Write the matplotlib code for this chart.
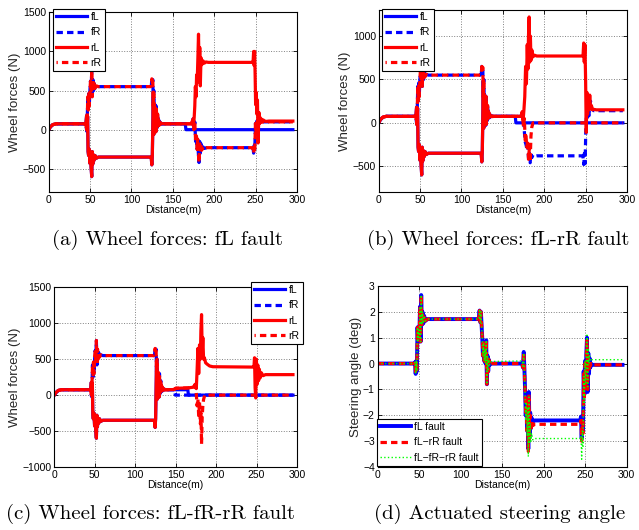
import matplotlib

matplotlib.use("Agg")
import matplotlib.pyplot as plt
import numpy as np

plt.rcParams["font.family"] = ["Liberation Sans", "DejaVu Sans"]

# ---- wheel forces, common part 0-140 m (same in a/b/c) ----
LEFT_X = [0, 2, 5, 9, 44, 45, 45.8, 46.4, 47, 47.6, 48.2, 49, 49.8, 50.5, 51.2, 52, 52.6, 53.3, 54, 55,
          56, 57.5, 60, 123, 124, 124.6, 125.2, 125.8, 126.4, 127, 127.6, 128.3, 129, 129.8, 130.6, 131.4,
          132.2, 133, 134, 135, 137, 140]
LEFT_Y = [0, 35, 65, 75, 75, 90, 180, -10, 170, -280, -330, -250, -430, -300, -480, -600, -280, -440, -320,
          -390, -330, -365, -350, -350, -370, -450, -330, 60, 480, -60, 320, 20, 260, -20, 200, 40, 140, 60,
          100, 70, 78, 75]
RIGHT_X = [0, 2, 5, 9, 44, 45, 46, 46.6, 47.2, 47.8, 48.4, 49, 49.8, 50.5, 51.2, 52, 52.7, 53.4, 54.2, 55,
           56, 57.5, 60, 123, 124, 124.6, 125.2, 125.8, 126.4, 127, 127.7, 128.4, 129.2, 130, 130.8, 131.6,
           132.4, 133.2, 134, 135, 137, 140]
RIGHT_Y = [0, 35, 65, 75, 75, 60, -20, 150, 420, 250, 460, 300, 500, 620, 480, 760, 420, 640, 500, 590,
           530, 560, 550, 550, 560, 650, 600, 640, 300, 500, 150, 320, -30, 300, 20, 200, 50, 120, 60, 90,
           72, 75]

# ---- (a) fL fault, tails after 140 m ----
fL_a_x = [140, 165, 165.8, 295]
fL_a_y = [75, 75, 0, 0]
rL_a_x = [140, 172, 174, 175, 175.8, 176.5, 177.2, 178, 178.7, 179.4, 180.2, 181, 181.8, 182.5, 183.2, 184,
          185, 186.5, 188, 190, 193, 246, 247, 247.6, 248.2, 248.8, 249.4, 250, 250.7, 251.4, 252.2, 253,
          254, 255, 256, 257.5, 259, 262, 266, 295]
rL_a_y = [75, 75, 120, 40, 160, 300, 550, 420, 700, 600, 900, 1220, 700, 1050, 560, 920, 830, 880, 850,
          865, 860, 860, 880, 1000, 820, 1000, 700, 320, 480, 200, 380, -170, 220, 80, 150, 100, 125, 105,
          110, 110]
rR_a_x = [140, 173, 174.5, 175.5, 176.5, 177.5, 178.5, 179.3, 180, 180.8, 181.6, 182.4, 183.2, 184, 185,
          186.5, 188, 191, 246, 247, 247.6, 248.3, 249, 249.8, 250.6, 251.4, 252.2, 253, 254, 255.5, 257,
          259, 262, 295]
rR_a_y = [75, 75, 140, 0, 100, -150, -80, -250, -120, -300, -420, -150, -300, -180, -260, -220, -240, -230,
          -230, -250, -300, -200, -250, 80, -50, 110, 60, 130, 80, 110, 95, 100, 100, 100]

# ---- (b) fL-rR fault ----
fL_b_x = [140, 165, 165.8, 295]
fL_b_y = [75, 75, 0, 0]
fR_b_x = [140, 174, 175, 176, 177, 178, 179, 180, 181, 182, 183, 184, 185, 186.5, 188, 191, 246, 247,
          247.8, 248.6, 249.4, 250.2, 251, 252, 253, 254, 255, 256, 257, 258.5, 260, 263, 295]
fR_b_y = [75, 75, 20, -100, -220, -250, -300, -250, -400, -330, -460, -350, -400, -370, -385, -380, -380,
          -400, -480, -350, -470, -100, 100, 60, 120, 80, 200, 250, 160, 150, 140, 140, 140]
rL_b_x = [140, 172, 173.5, 174.5, 175.5, 176.5, 177.5, 178.5, 179.5, 180.3, 181, 181.8, 182.5, 183.3, 184,
          185, 186.5, 188, 191, 246, 247, 247.7, 248.4, 249.2, 250, 250.8, 251.6, 252.4, 253.2, 254, 255,
          256, 257, 258.5, 260, 263, 295]
rL_b_y = [75, 75, 130, 30, 150, 300, 650, 450, 900, 620, 1000, 1220, 700, 1000, 720, 840, 760, 780, 770,
          770, 790, 920, 700, 900, 500, -110, 350, 100, 300, 150, 320, 160, 200, 150, 155, 150, 150]
rR_b_x = [140, 172, 173.5, 175, 176, 177, 178, 179, 180, 181, 182, 183, 184, 185, 186.5, 295]
rR_b_y = [75, 75, 120, -50, 50, -200, -150, -280, -200, -420, -300, -450, -150, -50, 0, 0]

# ---- (c) fL-fR-rR fault ----
fL_c_x = [140, 165, 165.8, 295]
fL_c_y = [75, 75, 0, 0]
fR_c_x = [140, 148.5, 149.5, 295]
fR_c_y = [75, 75, 0, 0]
rL_c_x = [140, 148, 150, 165, 172, 174, 175.5, 176.5, 177.5, 178.5, 179.5, 180.5, 181.2, 182, 182.8, 183.6,
          184.5, 185.5, 187, 189, 192, 196, 246, 246.8, 247.5, 248.2, 249, 249.8, 250.6, 251.5, 252.5,
          253.5, 254.5, 256, 258, 261, 265, 295]
rL_c_y = [75, 78, 95, 100, 110, 150, 90, 350, 650, 300, 700, 500, 900, 1120, 600, 800, 500, 520, 450, 430,
          405, 395, 390, 400, 520, 100, -40, 500, 150, 420, 200, 360, 240, 310, 270, 285, 285, 285]
rR_c_x = [140, 148, 150, 165, 172, 174, 175.5, 176.5, 177.5, 178.5, 179.5, 180.5, 181.3, 182, 182.8, 183.6,
          184.5, 186, 295]
rR_c_y = [75, 78, 95, 100, 110, 140, 20, -150, -50, -300, -100, -400, -250, -680, -300, -150, -60, 0, 0]

# ---- (d) steering angle ----
STEER_X = [0, 44, 45, 45.8, 46.5, 47.2, 48, 48.8, 49.5, 50.2, 51, 51.8, 52.5, 53.2, 54, 55, 56, 57.5, 60,
           121, 122, 122.8, 123.6, 124.4, 125.2, 126, 126.8, 127.6, 128.4, 129.2, 130, 130.8, 131.6, 132.4,
           133.2, 134, 135]
STEER_Y = [0, 0, 0.05, -0.4, 0.1, -0.3, 1.4, 0.9, 1.3, 1.0, 2.2, 0.85, 2.65, 1.5, 2.0, 1.55, 1.85, 1.65,
           1.72, 1.72, 1.75, 2.05, 1.6, 2.0, 1.5, 1.0, 0.3, 0.8, 0.1, 0.55, 0.0, 0.9, -0.8, 0.3, -0.3, 0.15,
           -0.05]
TAIL_X = [137, 174, 175, 176, 176.8, 177.6, 178.4, 179.2, 180, 180.8, 181.5, 182.2, 183, 183.8, 184.6,
          185.5, 187, 189, 244, 245, 245.8, 246.6, 247.4, 248.2, 249, 249.8, 250.6, 251.4, 252.2, 253,
          253.8, 254.6, 255.4, 256.2, 257, 258, 260, 295]
fl_tail_y = [0.0, 0.0, -0.15, 0.45, -0.2, -1.0, -2.0, -1.4, -2.6, -1.5, -3.3, -1.1, -2.8, -1.9, -2.5, -2.1,
             -2.25, -2.2, -2.2, -2.05, -2.9, -2.1, -2.6, -0.3, -1.2, 0.1, -0.9, 0.4, 1.0, -1.1, 0.4, -0.4,
             0.2, -0.15, 0.0, -0.05, -0.05, -0.05]
flrr_tail_y = [0.0, 0.0, -0.15, 0.45, -0.2, -1.0, -2.0, -1.4, -2.6, -1.5, -3.4, -1.2, -2.9, -2.0, -2.6,
               -2.2, -2.4, -2.35, -2.35, -2.2, -3.0, -2.2, -2.7, -0.4, -1.3, 0.0, -1.0, 0.3, 0.9, -1.0, 0.3,
               -0.3, 0.1, -0.1, 0.0, -0.05, -0.05, -0.05]
flfrrr_tail_y = [0.08, 0.1, -0.1, 0.4, -0.3, -1.1, -2.2, -1.5, -2.8, -1.7, -3.6, -1.3, -3.1, -2.3, -3.0,
                 -2.7, -2.95, -2.9, -2.9, -2.8, -3.7, -2.6, -3.2, -0.5, -1.5, 0.1, -0.8, 0.5, 1.1, -0.9,
                 0.6, 0.0, 0.3, 0.1, 0.15, 0.15, 0.15, 0.15]

BLUE = (0, 0, 1)
RED = (1, 0, 0)
GREEN = (0, 1, 0)
LW = 2.3
DASH_B = (0, (2.0, 1.3))
DASH_R = (1.6, (2.0, 1.3))


def cat(a, b):
    return np.concatenate([np.asarray(a, float), np.asarray(b, float)])


def style_axes(ax, ylim, yticks, ylabel):
    ax.set_xlim(0, 300)
    ax.set_ylim(*ylim)
    ax.set_xticks(np.arange(0, 301, 50))
    ax.set_yticks(yticks)
    ax.grid(True, linestyle=":", color="0.5", linewidth=0.7)
    ax.tick_params(direction="in", length=3, labelsize=7.5, top=True, right=True, width=0.6, pad=2)
    for s in ax.spines.values():
        s.set_linewidth(0.8)
    ax.set_xlabel("Distance(m)", fontsize=7.5, labelpad=0)
    # matlab spreads the letters of rotated labels, so a bigger size fits the length better
    ax.set_ylabel(ylabel, fontsize=9.5, labelpad=1, color="0.15")


def wheel_panel(ax, fl, fr, rl, rr):
    ax.plot(*fl, color=BLUE, lw=LW, label="fL")
    ax.plot(*fr, color=BLUE, lw=LW, ls=DASH_B, label="fR")
    ax.plot(*rl, color=RED, lw=LW, label="rL")
    ax.plot(*rr, color=RED, lw=LW, ls=DASH_R, label="rR")


fig = plt.figure(figsize=(6.39, 5.30), dpi=100)
W, H = 639, 530


def leg(ax, x0, y0, **kw):
    lg = ax.legend(loc="upper left", bbox_to_anchor=(x0 / W, 1 - y0 / H), bbox_transform=fig.transFigure,
                   borderaxespad=0, fontsize=7.5, handlelength=3.0, handletextpad=0.3, labelspacing=0.5,
                   borderpad=0.3, fancybox=False, framealpha=1, **kw)
    lg.get_frame().set_edgecolor("black")
    lg.get_frame().set_linewidth(0.8)
    return lg


ax_a = fig.add_axes([0.0762, 0.6372, 0.3886, 0.3396])
wheel_panel(ax_a, (cat(LEFT_X, fL_a_x), cat(LEFT_Y, fL_a_y)), (cat(RIGHT_X, rR_a_x), cat(RIGHT_Y, rR_a_y)),
            (cat(LEFT_X, rL_a_x), cat(LEFT_Y, rL_a_y)), (cat(RIGHT_X, rR_a_x), cat(RIGHT_Y, rR_a_y)))
style_axes(ax_a, (-800, 1500), np.arange(-500, 1501, 500), "Wheel forces (N)")
leg(ax_a, 53, 9)

ax_b = fig.add_axes([0.5926, 0.6372, 0.3886, 0.3439])
wheel_panel(ax_b, (cat(LEFT_X, fL_b_x), cat(LEFT_Y, fL_b_y)), (cat(RIGHT_X, fR_b_x), cat(RIGHT_Y, fR_b_y)),
            (cat(LEFT_X, rL_b_x), cat(LEFT_Y, rL_b_y)), (cat(RIGHT_X, rR_b_x), cat(RIGHT_Y, rR_b_y)))
style_axes(ax_b, (-800, 1300), np.arange(-500, 1001, 500), "Wheel forces (N)")
leg(ax_b, 382, 9)

ax_c = fig.add_axes([0.085, 0.1189, 0.3798, 0.339])
wheel_panel(ax_c, (cat(LEFT_X, fL_c_x), cat(LEFT_Y, fL_c_y)), (cat(RIGHT_X, fR_c_x), cat(RIGHT_Y, fR_c_y)),
            (cat(LEFT_X, rL_c_x), cat(LEFT_Y, rL_c_y)), (cat(RIGHT_X, rR_c_x), cat(RIGHT_Y, rR_c_y)))
style_axes(ax_c, (-1000, 1500), np.arange(-1000, 1501, 500), "Wheel forces (N)")
leg(ax_c, 251, 282)

ax_d = fig.add_axes([0.591, 0.1189, 0.3897, 0.3415])
ax_d.plot(cat(STEER_X, TAIL_X), cat(STEER_Y, fl_tail_y), color=BLUE, lw=2.8, label="fL fault")
ax_d.plot(cat(STEER_X, TAIL_X), cat(STEER_Y, flrr_tail_y), color=RED, lw=2.3, ls=(0, (2.0, 1.3)),
          label="fL\u2212rR fault")
ax_d.plot(cat(STEER_X, TAIL_X), cat(STEER_Y, flfrrr_tail_y), color=GREEN, lw=1.0, ls=":",
          label="fL\u2212fR\u2212rR fault")
style_axes(ax_d, (-4, 3), np.arange(-4, 4, 1), "Steering angle (deg)")
leg(ax_d, 377, 419)

caps = [("(a) Wheel forces: fL fault", 167, 240), ("(b) Wheel forces: fL-rR fault", 498, 240),
        ("(c) Wheel forces: fL-fR-rR fault", 150, 514), ("(d) Actuated steering angle", 500, 514)]
for txt, cx, cy in caps:
    fig.text(cx / W, 1 - cy / H, txt, ha="center", va="center", fontsize=15,
             family=["cmr10", "DejaVu Serif"])

fig.savefig("out.png", dpi=100)
